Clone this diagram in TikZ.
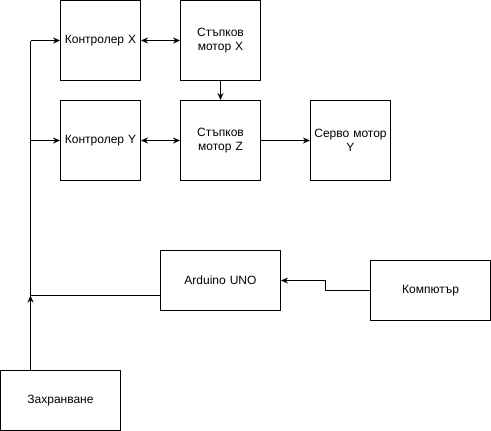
\documentclass[tikz,border=0pt]{standalone}
\usepackage{fontspec}
\setmainfont{Liberation Sans}
\usetikzlibrary{arrows.meta}
\begin{document}
\begin{tikzpicture}[x=1pt,y=-1pt,
  blk/.style={draw=black,line width=1pt,fill=white,inner sep=0pt,align=center,font=\fontsize{12}{14}\selectfont},
  sq/.style={blk,minimum width=80pt,minimum height=80pt,text width=76pt},
  wide/.style={blk,minimum width=120pt,minimum height=60pt,text width=116pt},
  con/.style={line width=1pt,-{Stealth[length=7pt,width=6pt]}},
  dcon/.style={line width=1pt,{Stealth[length=7pt,width=6pt]}-{Stealth[length=7pt,width=6pt]}},
  ln/.style={line width=1pt}]
\useasboundingbox (0,0) rectangle (491,431);
\node[sq] (cx) at (100.5,40.5) {Контролер X};
\node[sq] (mx) at (220.5,40.5) {Стъпков\\мотор X};
\node[sq] (cy) at (100.5,140.5) {Контролер Y};
\node[sq] (mz) at (220.5,140.5) {Стъпков\\мотор Z};
\node[sq] (sy) at (350.5,140.5) {Серво мотор\\Y};
\node[wide] (ard) at (220.5,280.5) {Arduino UNO};
\node[wide] (pc) at (430.5,290.5) {Компютър};
\node[wide] (pwr) at (60.5,400.5) {Захранване};
\coordinate (j) at (30.5,295.5);
\coordinate (jy) at (30.5,140.5);
\coordinate (jx) at (30.5,40.5);
\draw[dcon] (cx) -- (mx);
\draw[dcon] (cy) -- (mz);
\draw[con] (mx) -- (mz);
\draw[con] (mz) -- (sy);
\draw[con] (pc.west) -- (325.5,290.5) -- (325.5,280.5) -- (ard.east);
\draw[con] (pwr.north -| j) -- (j);
\draw[ln] (ard.west |- j) -- (j) -- (jx);
\draw[con] (jx) -- (cx.west);
\draw[con] (jy) -- (cy.west);
\end{tikzpicture}
\end{document}
